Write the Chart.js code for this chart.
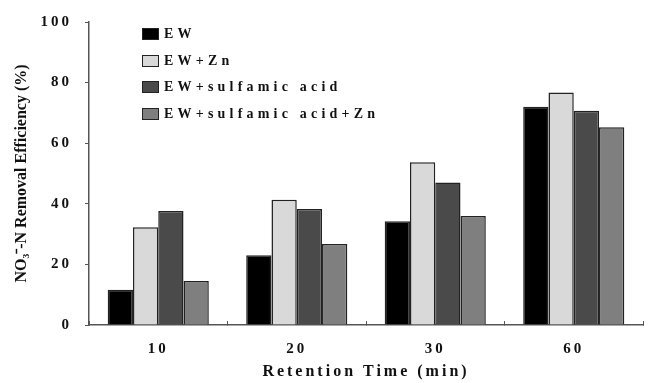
<!DOCTYPE html>
<html>
<head>
    <title>NO3-N Removal Efficiency</title>
    <script src="https://cdn.jsdelivr.net/npm/chart.js@4.4.0/dist/chart.umd.min.js"></script>
    <style>
        body { margin: 0; background: #fff; }
        #wrap { position: relative; width: 655px; height: 383px; }
        #legend {
            position: absolute; left: 142px; top: 21px;
            font: bold 14px "Liberation Serif", serif; letter-spacing: 4.2px; color: #111;
        }
        #legend div { height: 26.5px; display: flex; align-items: center; }
        #legend span.box {
            display: inline-block; width: 15px; height: 10px; margin-right: 5px;
            border: 1.5px solid #222;
        }
    </style>
</head>
<body>
    <div id="wrap">
        <canvas id="chart" width="655" height="383"></canvas>
        <div id="legend"></div>
    </div>

    <script>
        const categories = ['10', '20', '30', '60'];
        const seriesNames = ['EW', 'EW+Zn', 'EW+sulfamic acid', 'EW+sulfamic acid+Zn'];
        const ew = [11.6, 23.0, 34.2, 72.0];
        const ewZn = [32.3, 41.3, 53.7, 76.7];
        const ewAcid = [37.6, 38.3, 47.0, 70.7];
        const ewAcidZn = [14.5, 26.7, 36.0, 65.3];
        const colors = ['#000000', '#d9d9d9', '#4a4a4a', '#7f7f7f'];

        const values = [ew, ewZn, ewAcid, ewAcidZn];

        // html legend
        const legend = document.getElementById('legend');
        seriesNames.forEach((name, i) => {
            const row = document.createElement('div');
            row.innerHTML = `<span class="box" style="background:${colors[i]}"></span>${name}`;
            legend.appendChild(row);
        });

        // letter spacing for canvas text (ticks, x title); y title without
        const spacingPlugin = {
            id: 'spacing',
            beforeLayout(chart) { chart.ctx.letterSpacing = '3px'; },
            afterLayout(chart) {
                const s = chart.scales.y;
                if (!s._wrapped) {
                    const orig = s.drawTitle.bind(s);
                    s.drawTitle = function (a) {
                        const ctx = this.ctx;
                        const ls = ctx.letterSpacing;
                        ctx.letterSpacing = '0px';
                        orig(a);
                        ctx.letterSpacing = ls;
                    };
                    s._wrapped = true;
                }
            },
            beforeDraw(chart) { chart.ctx.letterSpacing = '3px'; }
        };

        const ctx = document.getElementById('chart').getContext('2d');
        new Chart(ctx, {
            type: 'bar',
            data: {
                labels: categories,
                datasets: seriesNames.map((name, i) => ({
                    label: name,
                    data: values[i],
                    backgroundColor: colors[i],
                    borderColor: '#222',
                    borderWidth: 1.5,
                    categoryPercentage: 0.73,
                    barPercentage: 1.0
                }))
            },
            options: {
                responsive: false,
                animation: false,
                layout: { autoPadding: false, padding: { top: 10, right: 12, left: 0, bottom: 0 } },
                plugins: {
                    legend: { display: false },
                    tooltip: { enabled: false }
                },
                scales: {
                    x: {
                        afterFit: s => { s.height = 58; },
                        // ticks point up into the plot, like the original
                        grid: { display: true, drawOnChartArea: false, offset: true, tickLength: -4, color: '#555' },
                        border: { color: '#555', width: 1.5 },
                        ticks: {
                            color: '#111', padding: 19, maxRotation: 0,
                            font: { family: '"Liberation Serif", serif', weight: 'bold', size: 15 }
                        },
                        title: {
                            display: true, text: 'Retention Time (min)', color: '#111',
                            font: { family: '"Liberation Serif", serif', weight: 'bold', size: 16 },
                            padding: { top: 0, bottom: 2 }
                        }
                    },
                    y: {
                        min: 0, max: 100,
                        afterFit: s => { s.width = 89; },
                        grid: { display: true, drawOnChartArea: false, tickLength: 4, color: '#555' },
                        border: { color: '#555', width: 1.5 },
                        ticks: {
                            stepSize: 20, color: '#111', padding: 13,
                            font: { family: '"Liberation Serif", serif', weight: 'bold', size: 15 }
                        },
                        title: {
                            display: true, text: 'NO₃⁻-N Removal Efficiency (%)', color: '#111',
                            font: { family: '"Liberation Serif", serif', weight: 'bold', size: 16 },
                            padding: { top: 12, bottom: 12 }
                        }
                    }
                }
            },
            plugins: [spacingPlugin]
        });
    </script>
</body>
</html>
